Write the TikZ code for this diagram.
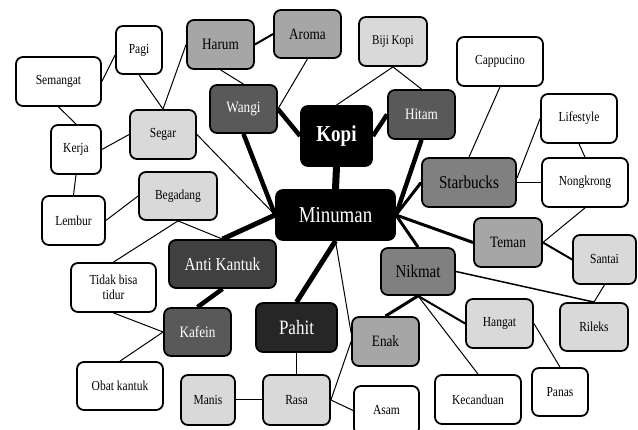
\documentclass[tikz,border=0pt]{standalone}
\usepackage{fontspec}
\setmainfont{Liberation Serif}
\usepackage{graphicx}
\pgfdeclarelayer{bg}
\pgfsetlayers{bg,main}
\definecolor{gL}{HTML}{D9D9D9}
\definecolor{gM}{HTML}{A6A6A6}
\definecolor{gG}{HTML}{808080}
\definecolor{gD}{HTML}{595959}
\definecolor{gA}{HTML}{404040}
\definecolor{gP}{HTML}{262626}
\newcommand{\vs}[1]{\scalebox{1}[1.2]{#1}}
\begin{document}
\begin{tikzpicture}[x=1pt,y=-1pt,
  box/.style={draw=black, line width=1.8pt, rounded corners=7pt, inner sep=0pt, align=center},
  fs/.style={font=\fontsize{11.5}{15}\selectfont},
  fm/.style={font=\fontsize{13.2}{16}\selectfont},
  fl/.style={font=\fontsize{15.2}{18}\selectfont},
  wb/.style={box, fill=white, fs},
  lb/.style={box, fill=gL, fs},
  mb/.style={box, fill=gM, fm},
  lnA/.style={line width=1pt},
  lnB/.style={line width=2pt},
  lnC/.style={line width=3pt},
  lnD/.style={line width=4.5pt}]
\useasboundingbox (0,0) rectangle (638,430);
% nodes
\node[wb, minimum width=46, minimum height=48] (pagi) at (139,50) {\vs{Pagi}};
\node[wb, minimum width=85, minimum height=49] (semangat) at (58.5,81.5) {\vs{Semangat}};
\node[mb, minimum width=67, minimum height=49] (harum) at (220.5,44.5) {\vs{Harum}};
\node[mb, minimum width=67, minimum height=48] (aroma) at (307.5,34) {\vs{Aroma}};
\node[lb, font=\fontsize{11.1}{13}\selectfont, minimum width=68, minimum height=49] (biji) at (393,41.5) {\vs{Biji Kopi}};
\node[box, fill=gD, text=white, fm, minimum width=67, minimum height=48] (wangi) at (243.5,109) {\vs{Wangi}};
\node[box, fill=black, text=white, font=\fontsize{19}{22}\selectfont\bfseries, minimum width=71, minimum height=60] (kopi) at (336.5,136) {\vs{Kopi}};
\node[box, fill=gD, text=white, fm, minimum width=67, minimum height=49] (hitam) at (421.5,114.5) {\vs{Hitam}};
\node[wb, minimum width=86, minimum height=49] (capp) at (500,61.5) {\vs{Cappucino}};
\node[wb, minimum width=76, minimum height=49] (life) at (579,118.5) {\vs{Lifestyle}};
\node[lb, minimum width=66, minimum height=49] (segar) at (163,134.5) {\vs{Segar}};
\node[wb, minimum width=50, minimum height=49] (kerja) at (76,149.5) {\vs{Kerja}};
\node[wb, minimum width=63, minimum height=49] (lembur) at (73.5,220.5) {\vs{Lembur}};
\node[lb, minimum width=78, minimum height=48] (begadang) at (178,196) {\vs{Begadang}};
\node[box, fill=gA, text=white, fl, minimum width=107, minimum height=48] (antik) at (222.5,264) {\vs{Anti Kantuk}};
\node[box, fill=black, text=white, font=\fontsize{18.9}{22}\selectfont, minimum width=119, minimum height=50] (minuman) at (335.5,215) {\vs{Minuman}};
\node[box, fill=gG, fl, minimum width=94, minimum height=49] (starbucks) at (469,182.5) {\vs{Starbucks}};
\node[wb, minimum width=86, minimum height=49] (nongkrong) at (585,182.5) {\vs{Nongkrong}};
\node[mb, minimum width=68, minimum height=49] (teman) at (508,242.5) {\vs{Teman}};
\node[lb, minimum width=63, minimum height=49] (santai) at (604.5,259.5) {\vs{Santai}};
\node[box, fill=gG, font=\fontsize{15}{18}\selectfont, minimum width=74, minimum height=47] (nikmat) at (418,271.5) {\vs{Nikmat}};
\node[wb, minimum width=85, minimum height=49] (tidak) at (113.5,287.5) {\vs{Tidak bisa}\\\vs{tidur}};
\node[box, fill=gD, text=white, fm, minimum width=67, minimum height=48] (kafein) at (197.5,332) {\vs{Kafein}};
\node[box, fill=gP, text=white, font=\fontsize{17}{20}\selectfont, minimum width=81, minimum height=49] (pahit) at (296.5,327.5) {\vs{Pahit}};
\node[mb, minimum width=67, minimum height=49] (enak) at (385.5,341.5) {\vs{Enak}};
\node[lb, minimum width=67, minimum height=49] (hangat) at (499.5,323.5) {\vs{Hangat}};
\node[lb, minimum width=68, minimum height=48] (rileks) at (594,327) {\vs{Rileks}};
\node[wb, minimum width=86, minimum height=48] (obat) at (120,386) {\vs{Obat kantuk}};
\node[lb, minimum width=54, minimum height=50] (manis) at (208,400) {\vs{Manis}};
\node[lb, minimum width=67, minimum height=50] (rasa) at (296.5,400) {\vs{Rasa}};
\node[wb, minimum width=65, minimum height=49] (asam) at (386.5,410.5) {\vs{Asam}};
\node[wb, minimum width=86, minimum height=49] (kecanduan) at (478,399.5) {\vs{Kecanduan}};
\node[wb, minimum width=56, minimum height=48] (panas) at (560,392) {\vs{Panas}};
% connectors
\begin{pgfonlayer}{bg}
\draw[lnA] (semangat.east) -- (pagi.192);
\draw[lnA] (pagi.south) -- (segar.north);
\draw[lnA] (harum.west) -- (segar.north);
\draw[lnB] (harum.east) -- (aroma.west);
\draw[lnA] (harum.south) -- (wangi.north);
\draw[lnA] (aroma.south) -- (wangi.east);
\draw[lnA] (biji.south) -- (kopi.north);
\draw[lnA] (biji.south) -- (hitam.north);
\draw[lnD] (wangi.east) -- (kopi.west);
\draw[lnD] (kopi.east) -- (hitam.west);
\draw[line width=7pt] (kopi.south) -- (minuman.north);
\draw[lnA] (semangat.south) -- (kerja.north);
\draw[lnA] (kerja.east) -- (segar.west);
\draw[lnA] (kerja.south) -- (lembur.north);
\draw[lnA] (lembur.east) -- (begadang.west);
\draw[lnA] (begadang.south) -- (tidak.north);
\draw[lnA] (begadang.south) -- (antik.north);
\draw[lnA] (segar.east) -- (minuman.west);
\draw[lnD] (wangi.south) -- (minuman.west);
\draw[line width=5pt] (antik.north) -- (minuman.west);
\draw[lnD] (antik.south) -- (kafein.north);
\draw[lnA] (kafein.west) -- (tidak.south);
\draw[lnA] (kafein.west) -- (obat.north);
\draw[line width=5pt] (minuman.south) -- (pahit.north);
\draw[lnA] (minuman.south) -- (enak.166);
\draw[lnA] (pahit.south) -- (rasa.north);
\draw[lnA] (manis.east) -- (rasa.west);
\draw[lnA] (rasa.east) -- (enak.west);
\draw[lnA] (rasa.east) -- (asam.west);
\draw[lnC] (enak.north) -- (nikmat.south);
\draw[lnB] (nikmat.south) -- (hangat.west);
\draw[lnA] (nikmat.south) -- (kecanduan.north);
\draw[line width=1.5pt] (nikmat.east) -- (rileks.north);
\draw[lnA] (hangat.east) -- (panas.north);
\draw[lnA] (rileks.north) -- (santai.south);
\draw[lnB] (teman.east) -- (santai.west);
\draw[lnA] (teman.east) -- (nongkrong.south);
\draw[lnA] (starbucks.east) -- (nongkrong.west);
\draw[lnA] (starbucks.5) -- (life.west);
\draw[lnA] (starbucks.north) -- (capp.south);
\draw[lnA] (life.south) -- (nongkrong.north);
\draw[lnD] (minuman.east) -- (hitam.south);
\draw[lnC] (minuman.east) -- (starbucks.west);
\draw[lnC] (minuman.east) -- (teman.west);
\draw[lnC] (minuman.east) -- (nikmat.north);
\end{pgfonlayer}
\end{tikzpicture}
\end{document}
